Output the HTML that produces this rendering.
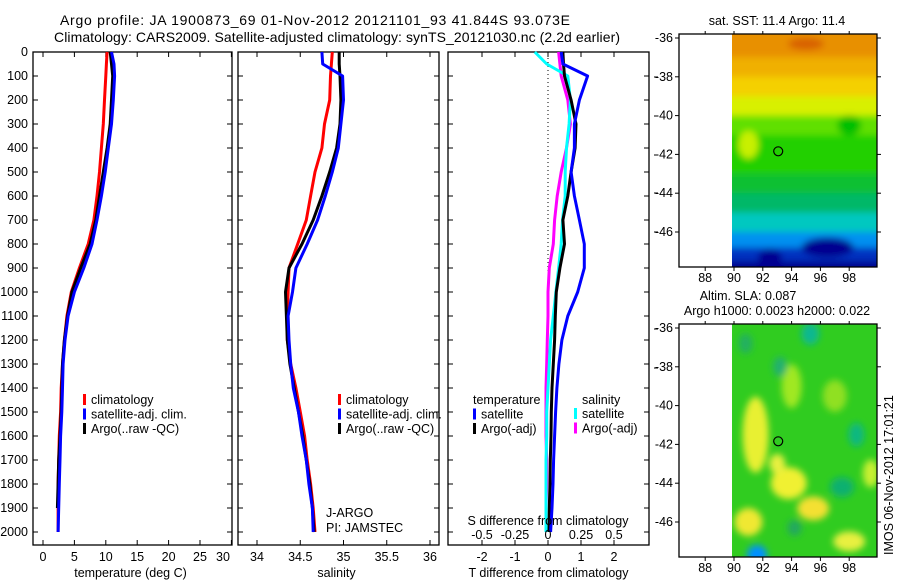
<!DOCTYPE html>
<html><head><meta charset="utf-8">
<style>
html,body{margin:0;padding:0;background:#fff;}
svg{display:block;font-family:"Liberation Sans",sans-serif;font-size:12.5px;}
</style></head>
<body>
<svg id="fig" width="900" height="580" viewBox="0 0 900 580" xmlns="http://www.w3.org/2000/svg">
<defs>
<filter id="blur1" x="-10%" y="-10%" width="120%" height="120%"><feGaussianBlur stdDeviation="3.5"/></filter>
<clipPath id="clipTop"><rect x="732" y="34" width="145" height="233"/></clipPath>
<clipPath id="clipBot"><rect x="732" y="324" width="145" height="233"/></clipPath>
</defs>
<g id="titles" style="font-size:14px">
<text x="60" y="25" textLength="510">Argo profile: JA 1900873_69 01-Nov-2012 20121101_93 41.844S 93.073E</text>
<text x="54" y="42" textLength="566">Climatology: CARS2009. Satellite-adjusted climatology: synTS_20121030.nc (2.2d earlier)</text>
</g>
<g id="plots"></g>
<g id="maps"></g>
</svg>
<script>
// ---- data ----
const depths = [0,50,100,200,300,400,500,600,700,800,900,1000,1100,1200,1300,1400,1500,1600,1700,1800,1900,2000];
const tempClim = [10.2,10.1,10.0,9.8,9.6,9.3,9.0,8.6,8.1,7.2,5.8,4.5,3.8,3.4,3.1,2.9,2.8,2.6,2.5,2.4,2.4,2.4];
const tempSat  = [10.9,11.3,11.4,11.2,10.9,10.4,9.9,9.3,8.6,7.8,6.5,5.0,4.0,3.5,3.2,3.1,3.0,2.8,2.7,2.6,2.5,2.4];
const tempArgo = [10.7,10.9,11.1,10.9,10.7,10.2,9.6,9.0,8.4,7.5,6.0,4.6,3.9,3.4,3.1,3.0,2.9,2.7,2.5,2.4,2.3,2.3];
const salClim = [34.87,34.86,34.85,34.84,34.78,34.75,34.67,34.62,34.57,34.47,34.37,34.36,34.35,34.35,34.39,34.45,34.50,34.55,34.58,34.62,34.65,34.67];
const salSat  = [34.75,34.76,34.99,35.00,34.97,34.94,34.87,34.79,34.70,34.58,34.45,34.41,34.36,34.37,34.39,34.42,34.48,34.52,34.57,34.60,34.64,34.65];
const salArgo = [34.95,34.95,34.96,34.97,34.96,34.92,34.84,34.75,34.65,34.52,34.37,34.33,34.34,34.35,34.38,34.43,34.48,34.53,34.57,34.61,34.64,34.66];
const tdiffSat  = [0.4,0.45,1.2,0.95,0.8,0.8,0.7,0.8,0.95,1.1,1.1,0.9,0.6,0.42,0.33,0.27,0.23,0.2,0.17,0.15,0.12,0.08];
const tdiffArgo = [0.45,0.47,0.5,0.7,0.85,0.82,0.7,0.6,0.45,0.5,0.36,0.25,0.22,0.2,0.16,0.12,0.1,0.09,0.07,0.06,0.04,0.03];
const sdiffSat  = [-0.1,-0.01,0.15,0.17,0.16,0.14,0.13,0.13,0.11,0.1,0.08,0.06,0.04,0.02,0.01,0.0,-0.01,-0.01,-0.015,-0.015,-0.015,-0.015];
const sdiffArgo = [0.08,0.09,0.1,0.15,0.17,0.14,0.1,0.07,0.05,0.04,0.01,0.0,0.0,-0.005,-0.01,-0.015,-0.015,-0.015,-0.01,-0.01,-0.015,-0.015];
const depthTicks = [0,100,200,300,400,500,600,700,800,900,1000,1100,1200,1300,1400,1500,1600,1700,1800,1900,2000];
const tempTicks = [0,5,10,15,20,25,30];
const salTicks = [34,34.5,35,35.5,36];
const tdTicks = [-2,-1,0,1,2];
const sdTicks = [-0.5,-0.25,0,0.25,0.5];
const latTicks = [-36,-38,-40,-42,-44,-46];
const lonTicks = [88,90,92,94,96,98];
const argoLon = 93.07, argoLat = -41.84;

const NS="http://www.w3.org/2000/svg";
function mk(tag,attrs,parent,txt){const e=document.createElementNS(NS,tag);for(const k in attrs)e.setAttribute(k,attrs[k]);if(txt!==undefined)e.textContent=txt;parent.appendChild(e);return e;}
const plots=document.getElementById('plots');
const yD = d => 52 + d*0.24;
const yTop=52, yBot=545;

const panels=[
 {x0:33,x1:232,sx:v=>43+v*6.28,ticks:tempTicks,title:'temperature (deg C)',name:'temperature-panel'},
 {x0:238,x1:439,sx:v=>257+(v-34)*86.5,ticks:salTicks,title:'salinity',name:'salinity-panel'},
 {x0:448,x1:649,sx:v=>548+v*33,ticks:tdTicks,title:'T difference from climatology',name:'difference-panel'}
];
panels.forEach((p,i)=>{
 const g=mk('g',{},plots);
 
 
 const fr=mk('rect',{x:p.x0,y:yTop,width:p.x1-p.x0,height:yBot-yTop,fill:'none',stroke:'#000','stroke-width':1.3},g);
 
 
 p.ticks.forEach(t=>{const x=p.sx(t);
  mk('line',{x1:x,x2:x,y1:yBot,y2:yBot-5,stroke:'#000'},g);
  mk('line',{x1:x,x2:x,y1:yTop,y2:yTop+5,stroke:'#000'},g);
  const tl=mk('text',{x:(i==0&&t==30)?223:x,y:561,'text-anchor':'middle'},g,String(t));
  
  
 });
 depthTicks.forEach(d=>{const y=yD(d);
  mk('line',{x1:p.x0,x2:p.x0+5,y1:y,y2:y,stroke:'#000'},g);
  mk('line',{x1:p.x1,x2:p.x1-5,y1:y,y2:y,stroke:'#000'},g);
  if(i==0){const tl=mk('text',{x:28,y:y+4,'text-anchor':'end'},g,String(d));
   
   }
 });
 const at=mk('text',{x:(p.x0+p.x1)/2+(i==2?0:-2),y:577,'text-anchor':'middle'},g,p.title);
 
 
 p.g=g;
});
function drawLine(g,xs,sx,color,name,upto){
 let d='';xs.forEach((v,k)=>{if(upto!==undefined&&depths[k]>upto)return;d+=(k?'L':'M')+sx(v).toFixed(1)+','+yD(depths[k]).toFixed(1);});
 const e=mk('path',{d:d,fill:'none',stroke:color,'stroke-width':3,'stroke-linejoin':'round'},g);
 
 
}
const zl=mk('line',{x1:548,x2:548,y1:54,y2:280,stroke:'#000','stroke-dasharray':'1,3'},panels[2].g);



drawLine(panels[0].g,tempClim,panels[0].sx,'#ff0000','temp-climatology-line');
drawLine(panels[0].g,tempArgo,panels[0].sx,'#000000','temp-argo-line',1950);
drawLine(panels[0].g,tempSat,panels[0].sx,'#0000ff','temp-satellite-line');
drawLine(panels[1].g,salClim,panels[1].sx,'#ff0000','sal-climatology-line');
drawLine(panels[1].g,salArgo,panels[1].sx,'#000000','sal-argo-line');
drawLine(panels[1].g,salSat,panels[1].sx,'#0000ff','sal-satellite-line');
const sds=v=>548+v*132;
drawLine(panels[2].g,sdiffArgo,sds,'#ff00ff','sdiff-argo-line');
drawLine(panels[2].g,sdiffSat,sds,'#00ffff','sdiff-satellite-line');
drawLine(panels[2].g,tdiffArgo,panels[2].sx,'#000000','tdiff-argo-line');
drawLine(panels[2].g,tdiffSat,panels[2].sx,'#0000ff','tdiff-satellite-line');

sdTicks.forEach(t=>{const tl=mk('text',{x:sds(t),y:539,'text-anchor':'middle'},panels[2].g,String(t));
 
 });
const st=mk('text',{x:548,y:525,'text-anchor':'middle'},panels[2].g,'S difference from climatology');


[77,116,155,193,232,329,368].forEach(y=>mk('line',{x1:654,x2:658,y1:y,y2:y,stroke:'#000'},plots));

function legend(g,x,y,items,name){
 const lg=mk('g',{},g);
 
 
 items.forEach((it,k)=>{
  if(it[0])mk('rect',{x:x,y:y+k*14.5-10,width:3,height:11,fill:it[0]},lg);
  const t=mk('text',{x:x+(it[0]?8:0),y:y+k*14.5},lg,it[1]);
  
  
 });
}
legend(panels[0].g,83,404,[['#f00','climatology'],['#00f','satellite-adj. clim.'],['#000','Argo(..raw -QC)']],'temp-legend');
legend(panels[1].g,338,404,[['#f00','climatology'],['#00f','satellite-adj. clim.'],['#000','Argo(..raw -QC)']],'sal-legend');
legend(panels[2].g,473,404,[[null,' temperature'],['#00f','satellite'],['#000','Argo(-adj)']],'tdiff-legend');
legend(panels[2].g,574,418,[['#0ff','satellite'],['#f0f','Argo(-adj)']],'sdiff-legend');
const sl=mk('text',{x:582,y:404},panels[2].g,'salinity');


const ja=mk('text',{x:326,y:517},panels[1].g,'J-ARGO');


const pi=mk('text',{x:326,y:532},panels[1].g,'PI: JAMSTEC');



// ---- maps ----
const maps=document.getElementById('maps');
function mapPanel(y0,latY,name,fill){
 const g=mk('g',{},maps);
 
 
 const lx=v=>734+(v-90)*14.4;
 const ly=v=>latY+(-36-v)*19.4;
 const inner=mk('g',{'clip-path':'url(#'+(y0<300?'clipTop':'clipBot')+')'},g);
 fill(inner,lx,ly);
 const fr=mk('rect',{x:679,y:y0,width:198,height:233,fill:'none',stroke:'#000','stroke-width':1.3},g);
 
 
 latTicks.forEach(t=>{const y=ly(t);mk('line',{x1:675,x2:679,y1:y,y2:y,stroke:'#000'},g);mk('line',{x1:877,x2:881,y1:y,y2:y,stroke:'#000'},g);
  const tl=mk('text',{x:673,y:y+4,'text-anchor':'end'},g,String(t));
  
  });
 lonTicks.forEach(t=>{const x=lx(t);mk('line',{x1:x,x2:x,y1:y0+233,y2:y0+237,stroke:'#000'},g);mk('line',{x1:x,x2:x,y1:y0,y2:y0-3,stroke:'#000'},g);
  const tl=mk('text',{x:x,y:y0+248,'text-anchor':'middle'},g,String(t));
  
  });
 const c=mk('circle',{cx:lx(argoLon),cy:ly(argoLat),r:4.5,fill:'none',stroke:'#000','stroke-width':1.2},g);
 
 
}
mapPanel(34,38,'sst-map',(g,lx,ly)=>{
 const bands=[[-35,'#e89000'],[-37,'#f0b000'],[-38,'#f4d000'],[-39,'#d8f000'],[-40,'#60e000'],[-41,'#20d000'],[-43,'#10c030'],[-44,'#00b868'],[-45,'#00c8c0'],[-46,'#0090f0'],[-46.8,'#0030c0'],[-47.5,'#000090']];
 const b=mk('g',{filter:'url(#blur1)'},g);
 bands.forEach((bd,k)=>{const y=ly(bd[0]);const y2=k<bands.length-1?ly(bands[k+1][0]):320;mk('rect',{x:720,y:y,width:170,height:y2-y+1,fill:bd[1]},b);});
 [[95,-36.3,'#d86000',18,6],[91,-41.5,'#c8f000',10,14],[96.5,-46.8,'#000090',26,10],[92.5,-47.3,'#000090',12,8],[98,-40.5,'#00c000',12,10]].forEach(e=>mk('ellipse',{cx:lx(e[0]),cy:ly(e[1]),rx:e[3],ry:e[4],fill:e[2]},b));
});
mapPanel(324,328,'sla-map',(g,lx,ly)=>{
 mk('rect',{x:732,y:324,width:145,height:233,fill:'#30cc20'},g);
 const b=mk('g',{filter:'url(#blur1)'},g);
 [[91.5,-41.5,'#e8f030',13,38],[93.8,-44,'#f0f030',18,16],[95.5,-45.3,'#f4e030',16,12],[91,-46,'#f0e830',14,14],[93,-43,'#e8f040',8,10],[98,-47,'#e8f040',16,10],[94,-39,'#a0e820',10,22],[97,-39.5,'#90e020',12,16],[99.5,-43.5,'#c8f030',8,14],[95.3,-36.3,'#10b890',9,11],[98.5,-41.5,'#10b880',8,12],[97.5,-44.2,'#10b070',12,10],[93.2,-38,'#20b070',7,10],[91.6,-47.7,'#0090ff',10,10],[94.2,-46.3,'#20a860',7,8],[90.8,-36.8,'#20b060',7,10]].forEach(e=>mk('ellipse',{cx:lx(e[0]),cy:ly(e[1]),rx:e[3],ry:e[4],fill:e[2]},b));
});
function tx(x,y,s,name){const t=mk('text',{x:x,y:y,'text-anchor':'middle'},maps,s);return t;}
tx(777,25,'sat. SST: 11.4 Argo: 11.4','sst-map-title');
tx(748,300,'Altim. SLA: 0.087','sla-map-title');
tx(777,315,'Argo h1000: 0.0023 h2000: 0.022','sla-map-subtitle');
const im=mk('text',{x:0,y:0,transform:'translate(893,555) rotate(-90)'},maps,'IMOS 06-Nov-2012 17:01:21');


</script>
</body></html>
